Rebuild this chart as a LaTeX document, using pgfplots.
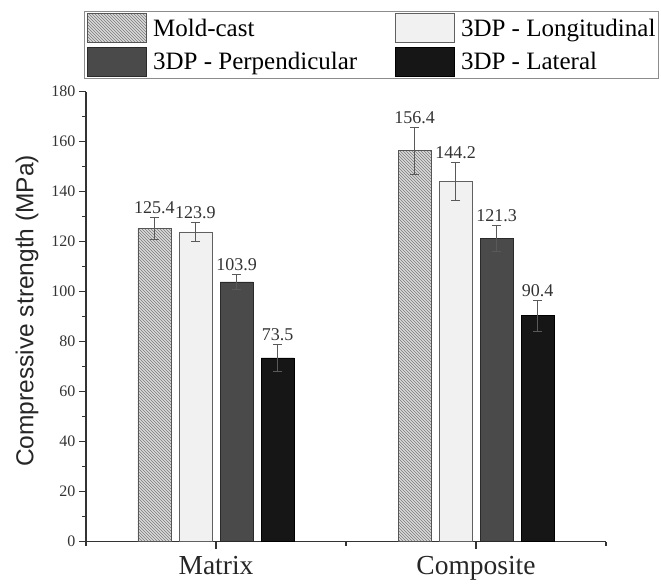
\documentclass[border=0pt]{standalone}
\usepackage{pgfplots}
\pgfplotsset{compat=1.18}
\usepackage{pgfplotstable}
\usetikzlibrary{patterns}
\usepackage{fontspec}
\setmainfont{Liberation Serif}
\newfontfamily\labelsans{Liberation Sans}
\definecolor{moldfill}{HTML}{DADADA}
\definecolor{moldhatch}{HTML}{7A7A7A}
\definecolor{molddraw}{HTML}{555555}
\definecolor{longfill}{HTML}{F1F1F1}
\definecolor{longdraw}{HTML}{606060}
\definecolor{perpfill}{HTML}{4A4A4A}
\definecolor{perpdraw}{HTML}{2A2A2A}
\definecolor{latfill}{HTML}{161616}
\definecolor{latdraw}{HTML}{000000}
\definecolor{axcol}{HTML}{333333}

\pgfplotstableread{
x y err
1 125.4 4.5
2 156.4 9.5
}\moldcast
\pgfplotstableread{
x y err
1 123.9 3.8
2 144.2 7.6
}\longidata
\pgfplotstableread{
x y err
1 103.9 3.0
2 121.3 5.3
}\perpdata
\pgfplotstableread{
x y err
1 73.5 5.5
2 90.4 6.3
}\latdata

\pgfplotsset{
  sq legend/.style={legend image code/.code={\draw[##1] (0pt,-14.5pt) rectangle (59pt,14.5pt);}},
  myerr/.style={error bars/.cd, y dir=both, y explicit,
    error bar style={line width=0.8pt, color=black!65},
    error mark options={rotate=90, mark size=4.5pt, line width=0.8pt, color=black!65}},
}

\begin{document}
\begin{tikzpicture}
\begin{axis}[
  name=ax,
  scale only axis,
  width=520pt, height=450pt,
  xmin=0.5, xmax=2.5,
  ymin=0, ymax=180,
  axis lines*=left,
  axis line style={axcol, line width=1.3pt},
  tick align=outside,
  tick style={axcol, line width=1.1pt},
  major tick length=7pt,
  minor tick length=4pt,
  xtick={1,2},
  xticklabels={Matrix,Composite},
  minor xtick={0.5,1.5,2.5},
  ytick={0,20,...,180},
  minor ytick={10,30,...,170},
  /pgf/number format/assume math mode=true,
  yticklabel style={font=\rmfamily\fontsize{16}{18}\selectfont, color=axcol},
  xticklabel style={font=\fontsize{27.5}{30}\selectfont, color=black!85, yshift=-4pt},
  ylabel={Compressive strength (MPa)},
  ylabel style={font=\labelsans\fontsize{24.5}{28}\selectfont, color=black!85, at={(axis description cs:-0.1135,0.513)}, anchor=center},
  ybar=8pt,
  bar width=33pt,
  clip=false,
  legend columns=2,
  legend cell align=left,
  legend style={
    at={(axis description cs:-0.004,1.1793)}, anchor=north west,
    draw=black!45, line width=0.8pt,
    font=\fontsize{25}{28}\selectfont,
    inner xsep=3pt, inner ysep=2pt,
    row sep=3.5pt,
    column sep=6pt,
    nodes={inner sep=0pt, anchor=west},
    /tikz/every even column/.append style={column sep=38pt},
  },
  nodes near coords,
  point meta=y,
  nodes near coords style={
    /pgf/number format/.cd, fixed, fixed zerofill, precision=1, assume math mode=true, /tikz/.cd,
    font=\rmfamily\fontsize{18}{20}\selectfont, color=black!80, anchor=south, inner sep=1pt,
    yshift=\myerr*2.5pt+2pt,
  },
  visualization depends on={\thisrow{err} \as \myerr},
]
\addplot+[sq legend, fill=moldfill, draw=molddraw, line width=0.8pt,
  postaction={pattern=north west lines, pattern color=moldhatch}, myerr]
  table[x=x, y=y, y error=err] {\moldcast};
\addlegendentry{Mold-cast}
\addplot+[sq legend, fill=longfill, draw=longdraw, line width=0.8pt, myerr]
  table[x=x, y=y, y error=err] {\longidata};
\addlegendentry{3DP - Longitudinal}
\addplot+[sq legend, fill=perpfill, draw=perpdraw, line width=0.8pt, myerr]
  table[x=x, y=y, y error=err] {\perpdata};
\addlegendentry{3DP - Perpendicular}
\addplot+[sq legend, fill=latfill, draw=latdraw, line width=0.8pt, myerr]
  table[x=x, y=y, y error=err] {\latdata};
\addlegendentry{3DP - Lateral}
\end{axis}
\pgfresetboundingbox
\path[use as bounding box] ([xshift=-86pt,yshift=-43.3pt]ax.south west) rectangle ([xshift=575pt,yshift=541.7pt]ax.south west);
\end{tikzpicture}
\end{document}
